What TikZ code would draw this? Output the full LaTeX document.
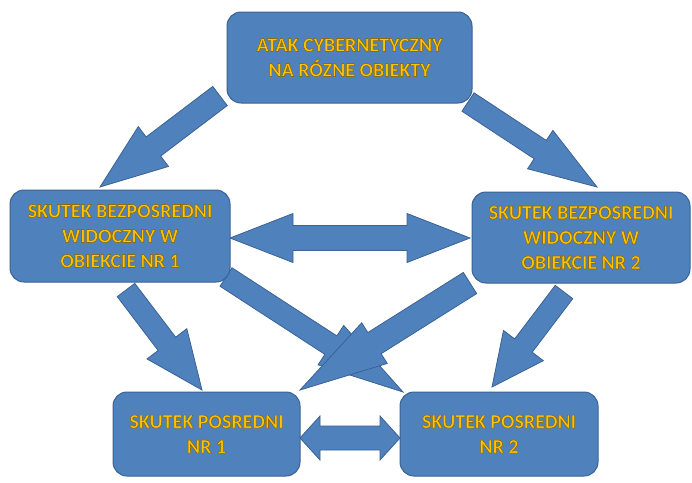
\documentclass[tikz,border=0pt]{standalone}
\usepackage{fontspec}
\setmainfont{Carlito}
\newfontfamily\boxfont[FakeBold=3]{Carlito Bold}
\usetikzlibrary{calc,backgrounds}
\definecolor{boxblue}{RGB}{79,129,189}
\definecolor{boxedge}{RGB}{58,98,148}
\definecolor{gold}{RGB}{255,196,0}
\newcommand\goldedge{\special{pdf:literal direct 0.55 0.42 0.05 RG}}
\tikzset{
  box/.style={draw=boxedge, line width=1pt, fill=boxblue, rounded corners=14pt,
    text=gold, font=\fontsize{20}{25}\boxfont, align=center, inner sep=0pt},
  blockarrow/.style={fill=boxblue, draw=boxedge, line width=0.8pt, line join=miter}
}
% #1 tail, #2 tip, #3 half shaft, #4 half head, #5 head length
\newcommand\singlearrow[5]{%
  \filldraw[blockarrow]
    ($(#1)!#3!90:(#2)$) --
    ($(#2)!#5!(#1)!#3!90:(#2)$) --
    ($(#2)!#5!(#1)!#4!90:(#2)$) --
    (#2) --
    ($(#2)!#5!(#1)!#4!-90:(#2)$) --
    ($(#2)!#5!(#1)!#3!-90:(#2)$) --
    ($(#1)!#3!-90:(#2)$) -- cycle;}
\newcommand\doublearrow[5]{%
  \filldraw[blockarrow]
    (#1) --
    ($(#1)!#5!(#2)!#4!90:(#2)$) --
    ($(#1)!#5!(#2)!#3!90:(#2)$) --
    ($(#2)!#5!(#1)!#3!90:(#2)$) --
    ($(#2)!#5!(#1)!#4!90:(#2)$) --
    (#2) --
    ($(#2)!#5!(#1)!#4!-90:(#2)$) --
    ($(#2)!#5!(#1)!#3!-90:(#2)$) --
    ($(#1)!#5!(#2)!#3!-90:(#2)$) --
    ($(#1)!#5!(#2)!#4!-90:(#2)$) -- cycle;}
\begin{document}
\begin{tikzpicture}[x=1pt,y=-1pt]
\useasboundingbox (0,0) rectangle (692,482);
\node[box, minimum width=245pt, minimum height=91pt] (top) at (349.5,57.5)
  {\goldedge ATAK CYBERNETYCZNY\\NA RÓZNE OBIEKTY};
\node[box, minimum width=220pt, minimum height=92pt] (left) at (120,236)
  {\goldedge SKUTEK BEZPOSREDNI\\WIDOCZNY W\\OBIEKCIE NR 1};
\node[box, minimum width=218pt, minimum height=91pt] (right) at (581,237.5)
  {\goldedge SKUTEK BEZPOSREDNI\\WIDOCZNY W\\OBIEKCIE NR 2};
\node[box, minimum width=187pt, minimum height=84pt] (bl) at (206.5,434)
  {\goldedge SKUTEK POSREDNI\\NR 1};
\node[box, minimum width=198pt, minimum height=84pt] (br) at (499,434)
  {\goldedge SKUTEK POSREDNI\\NR 2};
\coordinate (a1s) at (220,96);  \coordinate (a1e) at (100,187);
\coordinate (a2s) at (468,102); \coordinate (a2e) at (597,187);
\coordinate (a3s) at (126,290); \coordinate (a3e) at (202,390);
\coordinate (a4s) at (564,292); \coordinate (a4e) at (492,387);
\coordinate (a5s) at (230,238); \coordinate (a5e) at (470,238);
\coordinate (a6s) at (226,277); \coordinate (a6e) at (403,392);
\coordinate (a7s) at (470,283); \coordinate (a7e) at (300,390);
\coordinate (a8s) at (300,438); \coordinate (a8e) at (400,438);
\begin{scope}[on background layer]
\fill[white] (0,0) rectangle (692,482);
\singlearrow{a1s}{a1e}{12pt}{25pt}{67pt}
\singlearrow{a2s}{a2e}{11pt}{23pt}{68pt}
\singlearrow{a3s}{a3e}{11pt}{25pt}{58pt}
\singlearrow{a4s}{a4e}{11pt}{25pt}{52pt}
\doublearrow{a5s}{a5e}{12.5pt}{24.5pt}{63pt}
\singlearrow{a6s}{a6e}{11pt}{23.5pt}{86pt}
\singlearrow{a7s}{a7e}{12.5pt}{24pt}{88pt}
\doublearrow{a8s}{a8e}{12pt}{22pt}{20pt}
\end{scope}
\end{tikzpicture}
\end{document}
